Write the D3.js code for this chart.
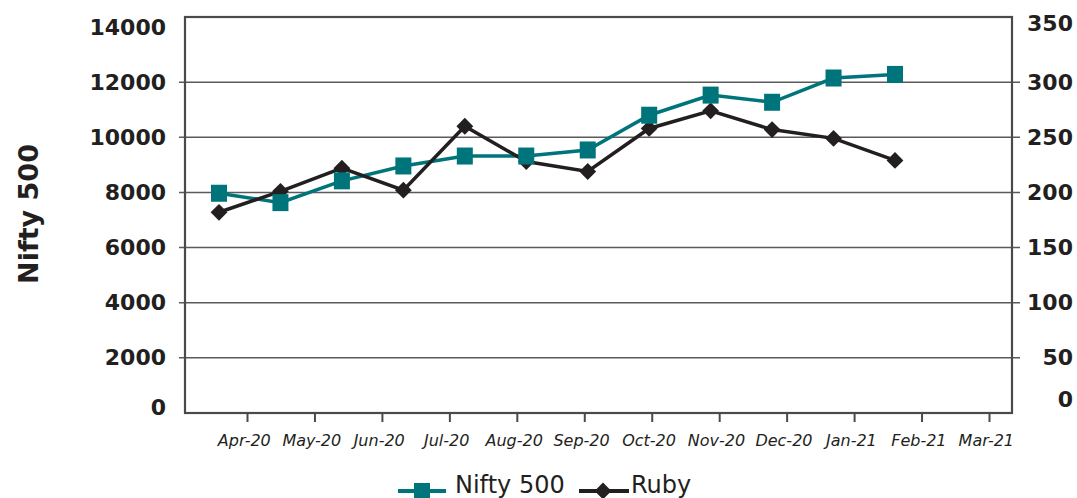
<!DOCTYPE html>
<html>
<head>
<meta charset="utf-8">
<script src="https://cdn.jsdelivr.net/npm/d3@7"></script>
<style>
  body { margin: 0; background: #fff; }
  svg { display: block; }
  svg text { font-family: 'DejaVu Sans', sans-serif; }
</style>
</head>
<body>
<div id="chart"></div>
<script>
const months = ['Apr-20', 'May-20', 'Jun-20', 'Jul-20', 'Aug-20', 'Sep-20',
  'Oct-20', 'Nov-20', 'Dec-20', 'Jan-21', 'Feb-21', 'Mar-21'];
const niftyValues = [7970, 7630, 8420, 8960, 9320, 9320, 9540, 10800, 11530, 11270, 12150, 12280];
const rubyValues = [182, 201, 222, 202, 260, 228, 219, 258, 274, 257, 249, 229];
const leftTicks = [0, 2000, 4000, 6000, 8000, 10000, 12000, 14000];
const rightTicks = [0, 50, 100, 150, 200, 250, 300, 350];
const gridTicks = [2000, 4000, 6000, 8000, 10000, 12000];
const seriesNames = ['Nifty 500', 'Ruby'];

const teal = '#00747b';
const ink = '#231f20';
const frame = '#4a4a4a';

const margin = { top: 17, right: 65, bottom: 85, left: 185 };
const totalWidth = 1077;
const totalHeight = 498;
const width = totalWidth - margin.left - margin.right;
const height = totalHeight - margin.top - margin.bottom;

const yLeft = d3.scaleLinear().domain([0, 14000]).range([height, 10]);
const yRight = d3.scaleLinear().domain([0, 350]).range([height, 10]);
// month ticks and plotted points sit on slightly different grids in the original
const xTicks = d3.scalePoint().domain(months).range([62, 804]);
const xData = d3.scaleLinear().domain([0, months.length - 1]).range([34, 710]);

const svg = d3.select('#chart')
  .append('svg')
  .attr('width', totalWidth)
  .attr('height', totalHeight);

const plot = svg.append('g')
  .attr('transform', `translate(${margin.left},${margin.top})`);

// gridlines, poking out past the frame on both sides
plot.append('g')
  .attr('class', 'grid')
  .selectAll('line')
  .data(gridTicks)
  .join('line')
  .attr('x1', -6)
  .attr('x2', width + 8)
  .attr('y1', (d) => yLeft(d))
  .attr('y2', (d) => yLeft(d))
  .style('stroke', '#5a5a5a')
  .style('stroke-width', 1.5);

// left axis labels
plot.append('g')
  .attr('class', 'y-left')
  .call(d3.axisLeft(yLeft).tickValues(leftTicks).tickFormat(d3.format('d'))
    .tickSize(0).tickPadding(19))
  .call((g) => g.select('.domain').remove())
  .attr('font-family', null)
  .selectAll('text')
  .style('font-size', '22px')
  .style('font-weight', 'bold')
  .style('fill', ink)
  .attr('dy', (d) => (d === 0 ? '0.05em' : '0.32em'));

// right axis labels, right-aligned at the page edge
plot.append('g')
  .attr('class', 'y-right')
  .attr('transform', `translate(${width},0)`)
  .call(d3.axisRight(yRight).tickValues(rightTicks).tickSize(0))
  .call((g) => g.select('.domain').remove())
  .attr('font-family', null)
  .selectAll('text')
  .attr('x', 61)
  .attr('text-anchor', 'end')
  .style('font-size', '22px')
  .style('font-weight', 'bold')
  .style('fill', ink)
  .attr('dy', (d) => (d === 0 ? '-0.3em' : d === 350 ? '0.18em' : '0.32em'));

// bottom axis
const xAxis = plot.append('g')
  .attr('class', 'x-axis')
  .attr('transform', `translate(0,${height})`)
  .call(d3.axisBottom(xTicks).tickSize(9).tickPadding(13))
  .attr('font-family', null);

xAxis.select('.domain').remove();
xAxis.selectAll('.tick line')
  .style('stroke', frame)
  .style('stroke-width', 2);
xAxis.selectAll('text')
  .attr('dx', '-0.2em')
  .style('font-size', '16px')
  .style('font-style', 'italic')
  .style('fill', ink);

// frame
plot.append('rect')
  .attr('x', 0)
  .attr('y', 0)
  .attr('width', width)
  .attr('height', height)
  .style('fill', 'none')
  .style('stroke', frame)
  .style('stroke-width', 2.2);

// y title
svg.append('text')
  .attr('transform', `translate(${38},${214}) rotate(-90)`)
  .attr('text-anchor', 'middle')
  .style('font-size', '27px')
  .style('font-weight', 'bold')
  .style('fill', ink)
  .text('Nifty 500');

const diamond = d3.symbol().type(d3.symbolDiamond2).size(180);

// Nifty 500 series
const niftyLine = d3.line()
  .x((d, i) => xData(i))
  .y((d) => yLeft(d));

plot.append('path')
  .datum(niftyValues)
  .attr('d', niftyLine)
  .style('fill', 'none')
  .style('stroke', teal)
  .style('stroke-width', 3.5);

// Ruby series
const rubyLine = d3.line()
  .x((d, i) => xData(i))
  .y((d) => yRight(d));

plot.append('path')
  .datum(rubyValues)
  .attr('d', rubyLine)
  .style('fill', 'none')
  .style('stroke', ink)
  .style('stroke-width', 3.5);

plot.append('g')
  .selectAll('path')
  .data(rubyValues)
  .join('path')
  .attr('transform', (d, i) => `translate(${xData(i)},${yRight(d)})`)
  .attr('d', diamond)
  .style('fill', ink);

plot.append('g')
  .selectAll('rect')
  .data(niftyValues)
  .join('rect')
  .attr('x', (d, i) => xData(i) - 8)
  .attr('y', (d) => yLeft(d) - 8.5)
  .attr('width', 16)
  .attr('height', 17)
  .style('fill', teal);

// legend
const legend = svg.append('g').attr('class', 'legend');

const niftyKey = legend.append('g').attr('transform', 'translate(398,491)');
niftyKey.append('line')
  .attr('x2', 48)
  .style('stroke', teal)
  .style('stroke-width', 4);
niftyKey.append('rect')
  .attr('x', 16)
  .attr('y', -8)
  .attr('width', 16)
  .attr('height', 16)
  .style('fill', teal);
niftyKey.append('text')
  .attr('x', 57)
  .attr('y', 2)
  .style('font-size', '24px')
  .style('fill', ink)
  .text(seriesNames[0]);

const rubyKey = legend.append('g').attr('transform', 'translate(579,491)');
rubyKey.append('line')
  .attr('x2', 50)
  .style('stroke', ink)
  .style('stroke-width', 4);
rubyKey.append('path')
  .attr('transform', 'translate(24,0)')
  .attr('d', diamond)
  .style('fill', ink);
rubyKey.append('text')
  .attr('x', 52)
  .attr('y', 2)
  .style('font-size', '24px')
  .style('fill', ink)
  .text(seriesNames[1]);
</script>
</body>
</html>
